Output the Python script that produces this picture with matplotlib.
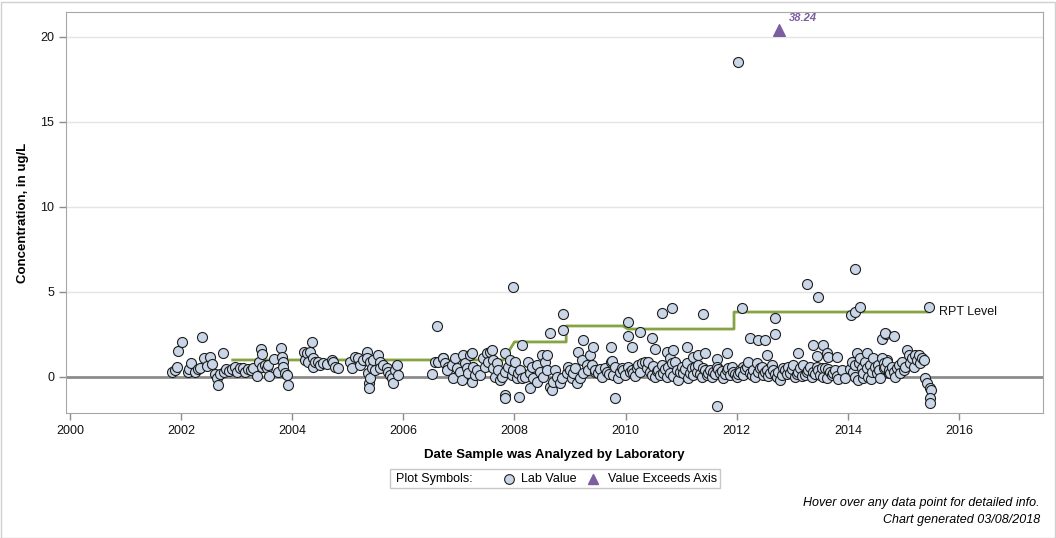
import numpy as np
import matplotlib
matplotlib.use("Agg")
import matplotlib.pyplot as plt
from matplotlib.lines import Line2D
from matplotlib.patches import Rectangle

plt.rcParams['font.family'] = ['Liberation Sans', 'DejaVu Sans']

# --- data (decimal year, concentration ug/L) ---
lab_2002_2004 = [
    (2001.84, 0.31), (2001.89, 0.41), (2001.93, 0.57), (2001.95, 1.53), (2002.02, 2.08),
    (2002.13, 0.31), (2002.14, 0.47), (2002.18, 0.82), (2002.26, 0.31), (2002.31, 0.45),
    (2002.34, 0.51), (2002.38, 2.34), (2002.42, 1.10), (2002.46, 0.67), (2002.52, 1.16),
    (2002.55, 0.75), (2002.61, 0.16), (2002.64, -0.08), (2002.66, -0.47), (2002.70, 0.16),
    (2002.76, 1.41), (2002.78, 0.31), (2002.81, 0.47), (2002.87, 0.35), (2002.91, 0.45),
    (2002.97, 0.57), (2003.00, 0.31), (2003.06, 0.51), (2003.12, 0.51), (2003.15, 0.31),
    (2003.21, 0.47), (2003.26, 0.40), (2003.30, 0.55), (2003.36, 0.06), (2003.41, 0.90),
    (2003.44, 1.65), (2003.45, 1.37), (2003.45, 0.61), (2003.51, 0.71), (2003.54, 0.51),
    (2003.57, 0.71), (2003.59, 0.06), (2003.68, 1.06), (2003.75, 0.31), (2003.80, 1.69),
    (2003.81, 1.20), (2003.84, 0.90), (2003.84, 0.61), (2003.87, 0.22), (2003.90, 0.12),
    (2003.92, -0.47),
]
lab_2004_2007 = [
    (2004.21, 1.49), (2004.23, 1.00), (2004.26, 1.39), (2004.29, 0.90), (2004.32, 1.49),
    (2004.35, 2.04), (2004.37, 1.10), (2004.38, 0.61), (2004.41, 0.86), (2004.47, 0.90),
    (2004.50, 0.71), (2004.56, 0.80), (2004.62, 0.75), (2004.71, 1.00), (2004.74, 0.90),
    (2004.77, 0.61), (2004.83, 0.55), (2005.04, 0.90), (2005.07, 0.51), (2005.13, 1.20),
    (2005.19, 1.10), (2005.22, 0.71), (2005.28, 1.00), (2005.34, 1.49), (2005.34, 1.10),
    (2005.37, 0.22), (2005.38, -0.37), (2005.39, -0.63), (2005.40, 0.90), (2005.40, -0.08),
    (2005.43, 0.51), (2005.46, 1.00), (2005.49, 0.41), (2005.55, 1.29), (2005.58, 0.90),
    (2005.58, 0.51), (2005.64, 0.71), (2005.70, 0.51), (2005.73, 0.31), (2005.76, 0.12),
    (2005.79, -0.08), (2005.82, -0.37), (2005.85, 0.41), (2005.88, 0.71), (2005.91, 0.12),
    (2006.51, 0.16), (2006.57, 0.90), (2006.60, 3.02), (2006.63, 0.86), (2006.72, 1.10),
    (2006.78, 0.71),
]
lab_2007_2009 = [
    (2006.71, 1.10), (2006.75, 0.80), (2006.81, 0.61), (2006.78, 0.41), (2006.87, 0.71),
    (2006.93, 1.10), (2006.90, -0.08), (2006.96, 0.51), (2007.02, 0.31), (2007.05, -0.18),
    (2007.08, 1.29), (2007.11, 0.80), (2007.14, 0.51), (2007.17, 0.22), (2007.20, 1.29),
    (2007.23, 1.39), (2007.23, -0.27), (2007.26, 0.61), (2007.29, 0.12), (2007.32, 0.41),
    (2007.38, 0.12), (2007.44, 1.10), (2007.47, 0.61), (2007.50, 1.39), (2007.53, 0.90),
    (2007.56, 1.49), (2007.59, 1.59), (2007.62, 1.00), (2007.62, 0.51), (2007.65, 0.02),
    (2007.68, 0.80), (2007.71, 0.41), (2007.74, -0.18), (2007.77, 0.02), (2007.83, 1.39),
    (2007.83, 0.31), (2007.83, -1.06), (2007.83, -1.25), (2007.89, 0.61), (2007.92, 1.00),
    (2007.95, 0.12), (2007.97, 5.29), (2007.98, 0.41), (2008.01, 0.90), (2008.04, -0.08),
    (2008.07, 0.22), (2008.09, -1.16), (2008.13, 1.88), (2008.10, 0.41), (2008.13, -0.08),
    (2008.19, 0.02), (2008.25, 0.90), (2008.28, 0.22), (2008.28, -0.67), (2008.31, 0.61),
    (2008.34, -0.08), (2008.40, 0.71), (2008.40, -0.27), (2008.46, 0.31), (2008.49, 1.29),
    (2008.52, 0.02), (2008.55, 0.90), (2008.58, 1.29), (2008.58, 0.41), (2008.64, 2.57),
    (2008.64, -0.57), (2008.67, -0.76), (2008.70, -0.27), (2008.73, 0.41), (2008.76, 0.02),
    (2008.82, -0.37), (2008.85, -0.08), (2008.87, 3.71), (2008.88, 2.76), (2008.94, 0.22),
    (2008.97, 0.61), (2009.00, 0.41), (2009.03, -0.08), (2009.06, 0.22), (2009.09, 0.51),
    (2009.12, -0.37), (2009.15, 1.49), (2009.18, -0.08), (2009.21, 1.00), (2009.24, 2.18),
    (2009.24, 0.22), (2009.30, 0.71), (2009.33, 0.41), (2009.36, 1.29), (2009.39, 0.71),
    (2009.42, 1.78), (2009.45, 0.31), (2009.48, 0.41),
]
lab_2009_2012 = [
    (2009.45, 0.41), (2009.51, 0.22), (2009.54, 0.45), (2009.57, 0.02), (2009.63, 0.51),
    (2009.66, 0.31), (2009.70, 0.15), (2009.74, 0.90), (2009.74, 1.78), (2009.75, 0.96),
    (2009.78, 0.12), (2009.81, 0.61), (2009.81, -1.25), (2009.87, -0.08), (2009.90, 0.31),
    (2009.93, 0.55), (2009.96, 0.41), (2009.99, 0.12), (2010.05, 0.61), (2010.05, 3.25),
    (2010.05, 2.41), (2010.08, 0.31), (2010.11, 1.78), (2010.11, 0.40), (2010.14, 0.22),
    (2010.17, 0.05), (2010.20, 0.51), (2010.23, 0.71), (2010.26, 2.67), (2010.26, 0.30),
    (2010.29, 0.80), (2010.35, 0.90), (2010.38, 0.50), (2010.41, 0.90), (2010.44, 0.31),
    (2010.47, 2.27), (2010.47, 0.12), (2010.50, 0.65), (2010.53, 1.63), (2010.53, 0.02),
    (2010.56, 0.35), (2010.59, 0.41), (2010.62, 0.10), (2010.65, 3.75), (2010.65, 0.71),
    (2010.68, 0.22), (2010.71, 0.45), (2010.74, 1.49), (2010.74, 0.02), (2010.77, 0.61),
    (2010.80, 1.10), (2010.80, 0.25), (2010.83, 4.08), (2010.83, 0.80), (2010.86, 1.59),
    (2010.86, 0.05), (2010.89, 0.90), (2010.92, 0.41), (2010.95, -0.18), (2010.98, 0.30),
    (2011.01, 0.61), (2011.04, 0.22), (2011.07, 0.45), (2011.10, 1.78), (2011.10, 0.80),
    (2011.13, -0.08), (2011.16, 0.25), (2011.19, 0.51), (2011.22, 1.20), (2011.22, 0.12),
    (2011.25, 0.60), (2011.28, 0.31), (2011.31, 1.29), (2011.31, 0.71), (2011.34, 0.20),
    (2011.37, 0.02), (2011.40, 3.71), (2011.40, 0.55), (2011.43, 1.39), (2011.43, 0.41),
    (2011.46, 0.10), (2011.49, 0.22), (2011.52, 0.40), (2011.55, 0.02), (2011.58, 0.31),
    (2011.61, 0.15), (2011.64, 1.04), (2011.64, 0.61), (2011.64, -1.71), (2011.67, 0.45),
    (2011.70, 0.22), (2011.73, 0.35), (2011.76, -0.08), (2011.79, 0.20), (2011.82, 1.39),
    (2011.82, 0.41), (2011.85, 0.50), (2011.88, 0.12), (2011.91, 0.60), (2011.94, 0.31),
    (2011.97, 0.20), (2012.00, 0.02), (2012.02, 18.53), (2012.03, 0.15), (2012.06, 0.41),
    (2012.09, 4.04), (2012.09, 0.25), (2012.12, 0.61),
]
lab_2012_2015 = [
    (2012.06, 0.31), (2012.12, 0.12), (2012.15, 0.45), (2012.18, 0.61), (2012.21, 0.90),
    (2012.24, 2.27), (2012.24, 0.22), (2012.27, 0.10), (2012.30, 0.41), (2012.33, 0.02),
    (2012.36, 0.80), (2012.39, 2.18), (2012.39, 0.31), (2012.42, 0.50), (2012.45, 0.61),
    (2012.48, 0.12), (2012.51, 2.18), (2012.51, 0.30), (2012.54, 0.41), (2012.55, 1.29),
    (2012.57, 0.05), (2012.60, 0.22), (2012.63, 0.71), (2012.66, 0.41), (2012.69, 3.45),
    (2012.69, 2.53), (2012.69, 0.20), (2012.72, 0.02), (2012.75, 0.31), (2012.78, -0.18),
    (2012.81, 0.12), (2012.84, 0.55), (2012.87, 0.41), (2012.90, 0.15), (2012.93, 0.61),
    (2012.96, 0.22), (2012.99, 0.45), (2013.02, 0.71), (2013.05, 0.02), (2013.08, 0.20),
    (2013.11, 1.43), (2013.11, 0.31), (2013.14, 0.51), (2013.17, 0.05), (2013.20, 0.71),
    (2013.23, 0.12), (2013.26, 0.30), (2013.27, 5.47), (2013.29, 0.41), (2013.32, 0.60),
    (2013.35, 0.02), (2013.37, 1.88), (2013.38, 0.31), (2013.41, 0.15), (2013.44, 1.24),
    (2013.44, 0.61), (2013.46, 4.71), (2013.47, 0.40), (2013.50, 0.12), (2013.53, 0.55),
    (2013.56, 1.88), (2013.56, 0.02), (2013.59, 0.51), (2013.62, 1.39), (2013.62, -0.08),
    (2013.65, 1.20), (2013.65, 0.45), (2013.68, 0.31), (2013.71, 0.12), (2013.74, 0.25),
    (2013.77, 0.41), (2013.80, 1.16), (2013.80, 0.05), (2013.83, -0.14), (2013.89, 0.41),
    (2013.95, -0.08), (2014.04, 0.45), (2014.06, 3.65), (2014.07, 0.90), (2014.10, 0.31),
    (2014.12, 0.70), (2014.13, 6.35), (2014.13, 3.84), (2014.13, 0.02), (2014.16, 1.39),
    (2014.19, -0.18), (2014.20, 0.80), (2014.22, 4.10), (2014.22, 1.10), (2014.25, 0.51),
    (2014.27, -0.05), (2014.28, 0.22), (2014.31, 0.90), (2014.34, 1.39), (2014.35, 0.55),
    (2014.37, 0.02), (2014.40, 0.71), (2014.42, -0.10), (2014.43, 0.31), (2014.46, 1.10),
    (2014.49, 0.60), (2014.52, 0.22), (2014.55, 0.71), (2014.56, 0.40), (2014.58, -0.08),
    (2014.61, 2.22), (2014.64, 0.51), (2014.68, 2.53), (2014.70, 1.00), (2014.73, 0.22),
]
lab_2015 = [
    (2014.61, 1.10), (2014.64, 0.80), (2014.67, 0.61), (2014.67, 2.57), (2014.70, 0.90),
    (2014.73, 0.41), (2014.76, 0.22), (2014.79, 0.61), (2014.82, 0.31), (2014.82, 2.41),
    (2014.85, 0.02), (2014.88, 0.51), (2014.91, 0.71), (2014.94, 0.22), (2014.97, 0.90),
    (2015.00, 0.41), (2015.03, 0.61), (2015.06, 1.59), (2015.09, 1.29), (2015.12, 0.80),
    (2015.15, 1.10), (2015.18, 0.61), (2015.21, 1.29), (2015.24, 1.00), (2015.27, 1.29),
    (2015.30, 0.80), (2015.33, 1.10), (2015.36, 1.00), (2015.39, -0.08), (2015.42, -0.37),
    (2015.47, -0.67), (2015.49, -0.76), (2015.48, -1.25), (2015.47, -1.55), (2015.46, 4.12),
]

# reporting level step line
rpt_dates = [2002.93, 2007.80, 2008.00, 2008.93, 2008.93, 2009.95, 2010.04, 2011.95, 2011.95, 2015.46]
rpt_levels = [1.00, 1.00, 2.06, 2.06, 3.00, 3.00, 2.82, 2.82, 3.82, 3.82]

# value above the axis range
exceed_date = 2012.76
exceed_plot_value = 20.4
exceed_label = "38.24"

lab_points = np.array(lab_2002_2004 + lab_2004_2007 + lab_2007_2009
                      + lab_2009_2012 + lab_2012_2015 + lab_2015)

fig = plt.figure(figsize=(10.56, 5.38), dpi=100)
ax = fig.add_axes([66 / 1056, 1 - 413 / 538, (1043 - 66) / 1056, (413 - 12) / 538])

ax.set_xlim(1999.93, 2017.51)
ax.set_ylim(-2.12, 21.47)

for y in [5, 10, 15, 20]:
    ax.axhline(y, color='#e4e4e4', lw=1, zorder=0)
ax.axhline(0, color='#8c8c8c', lw=2, zorder=1)

ax.plot(rpt_dates, rpt_levels, color='#86a443', lw=2, zorder=2)
ax.text(2015.64, 3.82, 'RPT Level', fontsize=9, va='center', ha='left', color='#111111')

ax.scatter(lab_points[:, 0], lab_points[:, 1], s=52, facecolor='#c9d6e7',
           edgecolor='#1e1e1e', linewidth=0.8, zorder=3)

ax.scatter([exceed_date], [exceed_plot_value], marker='^', s=70, color='#7b5ea0', zorder=4)
ax.text(exceed_date + 0.17, exceed_plot_value + 0.7, exceed_label, fontsize=8,
        fontweight='bold', style='italic', color='#7b5ea0', ha='left', va='center')

ax.set_xticks(range(2000, 2017, 2))
ax.set_yticks([0, 5, 10, 15, 20])
ax.tick_params(axis='both', labelsize=9, color='#8c8c8c', length=5, width=1,
               labelcolor='#111111')
for sp in ax.spines.values():
    sp.set_color('#a6a6a6')

ax.set_xlabel('Date Sample was Analyzed by Laboratory', fontsize=9.5,
              fontweight='bold', labelpad=9)
ax.set_ylabel('Concentration, in ug/L', fontsize=9.5, fontweight='bold', labelpad=8)

# legend box
fig.add_artist(Rectangle((390 / 1056, 1 - 488 / 538), 330 / 1056, 19 / 538,
                         transform=fig.transFigure, facecolor='white',
                         edgecolor='#c8c8c8', lw=1))
ly = 1 - 479 / 538
fig.text(396 / 1056, ly, 'Plot Symbols:', fontsize=9, va='center', ha='left')
fig.add_artist(Line2D([509 / 1056], [ly], marker='o', markersize=7, transform=fig.transFigure,
                      markerfacecolor='#c9d6e7', markeredgecolor='#1e1e1e',
                      markeredgewidth=0.8, linestyle='none'))
fig.text(521 / 1056, ly, 'Lab Value', fontsize=9, va='center', ha='left')
fig.add_artist(Line2D([593 / 1056], [ly], marker='^', markersize=7, transform=fig.transFigure,
                      color='#7b5ea0', linestyle='none'))
fig.text(608 / 1056, ly, 'Value Exceeds Axis', fontsize=9, va='center', ha='left')

fig.text(1040 / 1056, 1 - 503 / 538, 'Hover over any data point for detailed info.',
         fontsize=9, style='italic', ha='right', va='center')
fig.text(1040 / 1056, 1 - 520 / 538, 'Chart generated 03/08/2018',
         fontsize=9, style='italic', ha='right', va='center')

# outer border
fig.add_artist(Rectangle((0.5 / 1056, 0.5 / 538), 1054 / 1056, 536 / 538,
                         transform=fig.transFigure, fill=False,
                         edgecolor='#d0d0d0', lw=1))

fig.savefig('out.png', dpi=100)
